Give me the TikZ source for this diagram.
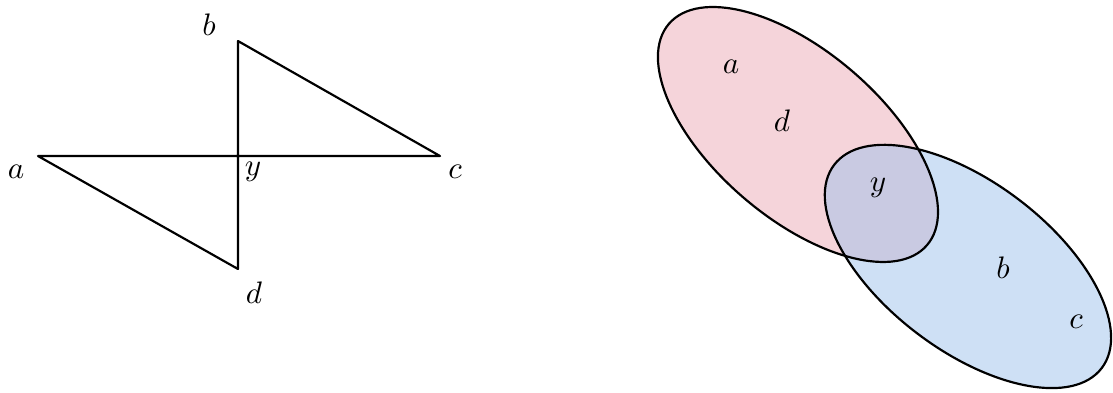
\documentclass[tikz,border=0pt]{standalone}
\usepackage{amsmath}
\usetikzlibrary{calc, positioning}

\definecolor{setpink}{RGB}{235,169,181}
\definecolor{setblue}{RGB}{157,193,235}

\begin{document}
\begin{tikzpicture}[x=0.0113cm, y=-0.0113cm, line width=0.7pt, line join=round]
\useasboundingbox (0,0) rectangle (1113,392);

% Points of the graph
\coordinate (a) at (38,156);
\coordinate (y) at (238,156);
\coordinate (c) at (440,156);
\coordinate (b) at (238,41);
\coordinate (d) at (238,269);

% Draw the two triangles
\draw (a) -- (c) -- (b) -- (d) -- cycle;

% Label the points
\node (la) at (16,172) {$a$};
\node (lb) at (209,25) {$b$};
\node (lc) at (455,172) {$c$};
\node (ly) at (253,172) {$y$};
\node (ld) at (254,293) {$d$};

% Draw the two sets
\coordinate (p) at (798,134.5);
\coordinate (q) at (968,266.5);
\fill[setpink, fill opacity=0.5, rotate around={-40.6:(p)}] (p) ellipse [x radius=170, y radius=83.4];
\fill[setblue, fill opacity=0.5, rotate around={-37.2:(q)}] (q) ellipse [x radius=168, y radius=84];
\draw[rotate around={-40.6:(p)}] (p) ellipse [x radius=170, y radius=83.4];
\draw[rotate around={-37.2:(q)}] (q) ellipse [x radius=168, y radius=84];

% Label the elements
\node (ea) at (731,67) {$a$};
\node (ed) at (782,121) {$d$};
\node (ey) at (878,188) {$y$};
\node (eb) at (1003,268) {$b$};
\node (ec) at (1076,322) {$c$};
\end{tikzpicture}
\end{document}
